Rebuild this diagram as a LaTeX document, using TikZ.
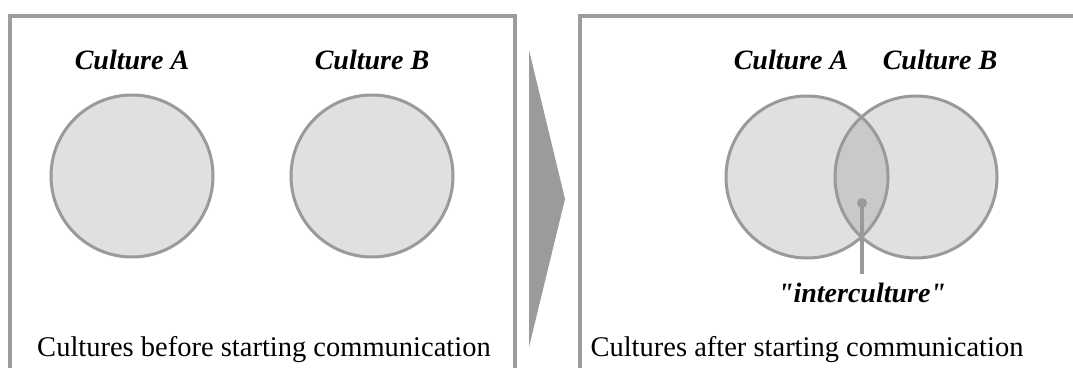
\documentclass[tikz,border=0pt]{standalone}
\usepackage{fontspec}
\setmainfont{Liberation Serif}
% same face without the TeX mapping, so " stays a straight quote
\newfontfamily\straightserif{Liberation Serif}
\definecolor{frame}{HTML}{9C9C9C}
\definecolor{ring}{HTML}{9A9A9A}
\definecolor{disc}{HTML}{E0E0E0}
\definecolor{overlap}{HTML}{C9C9C9}
\definecolor{arrowgray}{HTML}{9B9B9B}
\begin{document}
\begin{tikzpicture}[x=1pt,y=1pt,
  panel/.style={draw=frame,line width=3.6pt},
  culture/.style={circle,minimum size=162pt,inner sep=0pt},
  title/.style={font=\fontsize{28}{32}\selectfont\bfseries\itshape,inner sep=0pt},
  caption/.style={font=\fontsize{28.5}{32}\selectfont,inner sep=0pt}]
\useasboundingbox (0,0) rectangle (1073,-367);

% panels, open at the bottom
\draw[panel] (10,-370) -- (10,-16) -- (515,-16) -- (515,-370);
\draw[panel] (580,-370) -- (580,-16) -- (1080,-16);

% transition arrow
\fill[arrowgray] (529,-50) -- (565,-199) -- (529,-347) -- cycle;

% before: two separate cultures
\node[culture,fill=disc,draw=ring,line width=3pt] (a1) at (132,-176) {};
\node[culture,fill=disc,draw=ring,line width=3pt] (b1) at (372,-176) {};
\node[title] (ta1) at (132,-60) {Culture A};
\node[title] (tb1) at (372,-60) {Culture B};
\node[caption] (cap1) at (264,-350) {Cultures before starting communication};

% after: overlapping cultures
\node[culture,fill=disc] (a2) at (807,-177) {};
\node[culture,fill=disc] (b2) at (916,-177) {};
\begin{scope}
  \clip (a2.center) circle (81);
  \fill[overlap] (b2.center) circle (81);
\end{scope}
\draw[ring,line width=3pt] (a2.center) circle (81);
\draw[ring,line width=3pt] (b2.center) circle (81);
\node[title] (ta2) at (791,-60) {Culture A};
\node[title] (tb2) at (940,-60) {Culture B};
\node[caption] (cap2) at (807,-350) {Cultures after starting communication};

% pointer to the shared region
\node[circle,fill=ring,minimum size=10pt,inner sep=0pt] (dot) at (862,-203) {};
\node[title,font=\fontsize{28}{32}\straightserif\bfseries\itshape] (inter) at (862,-293) {"interculture"};
\coordinate (tail) at (862,-274);
\draw[ring,line width=3.4pt] (dot.center) -- (tail);
\end{tikzpicture}
\end{document}
